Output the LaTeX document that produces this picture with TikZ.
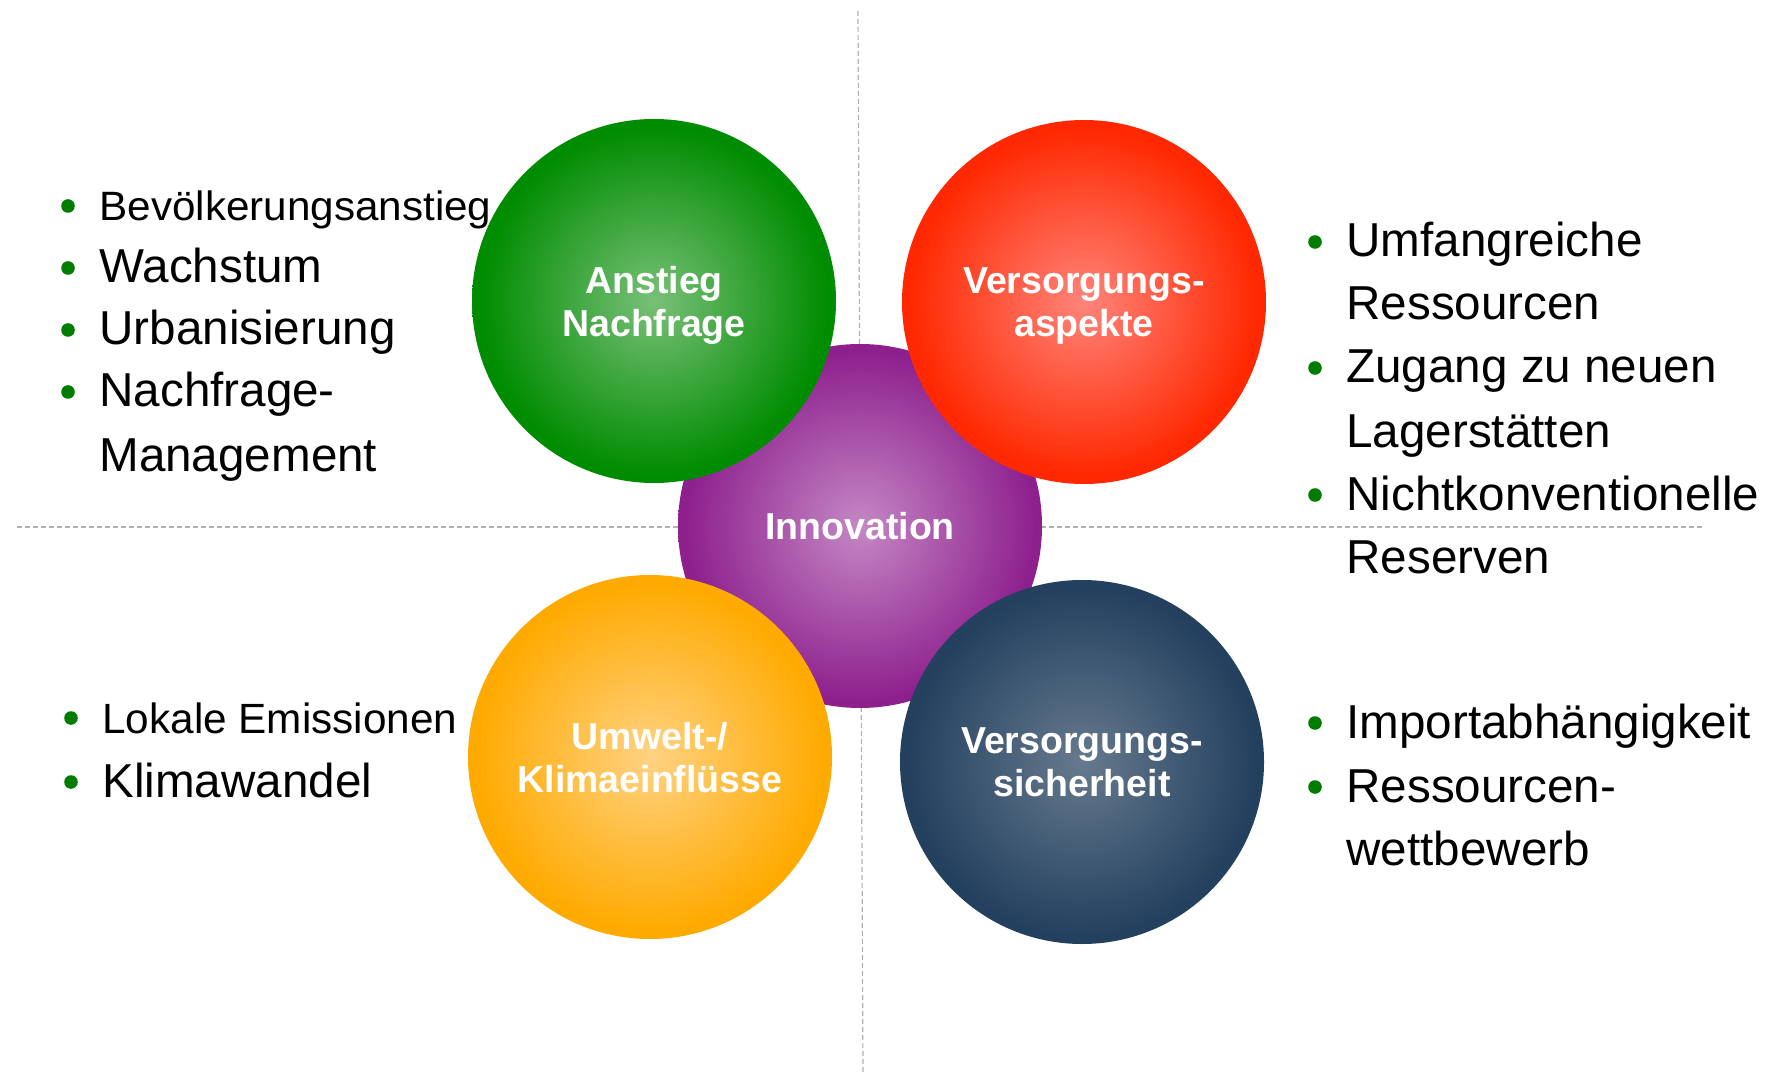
\documentclass[tikz,border=0pt]{standalone}
\usepackage{fontspec}
\setmainfont{Liberation Sans}
\usetikzlibrary{positioning}

\definecolor{dotgreen}{RGB}{0,125,0}
\definecolor{greenin}{RGB}{120,192,120}
\definecolor{greenout}{RGB}{0,140,0}
\definecolor{redin}{RGB}{255,132,122}
\definecolor{redout}{RGB}{255,40,0}
\definecolor{purplein}{RGB}{196,136,196}
\definecolor{purpleout}{RGB}{142,32,142}
\definecolor{orangein}{RGB}{255,210,130}
\definecolor{orangeout}{RGB}{255,170,0}
\definecolor{navyin}{RGB}{102,122,142}
\definecolor{navyout}{RGB}{35,64,94}

% light centre, full colour towards the rim
\pgfdeclareradialshading{greenball}{\pgfpoint{0bp}{0bp}}{color(0bp)=(greenin); color(24bp)=(greenout); color(50bp)=(greenout)}
\pgfdeclareradialshading{redball}{\pgfpoint{0bp}{0bp}}{color(0bp)=(redin); color(24bp)=(redout); color(50bp)=(redout)}
\pgfdeclareradialshading{purpleball}{\pgfpoint{0bp}{0bp}}{color(0bp)=(purplein); color(24bp)=(purpleout); color(50bp)=(purpleout)}
\pgfdeclareradialshading{orangeball}{\pgfpoint{0bp}{0bp}}{color(0bp)=(orangein); color(24bp)=(orangeout); color(50bp)=(orangeout)}
\pgfdeclareradialshading{navyball}{\pgfpoint{0bp}{0bp}}{color(0bp)=(navyin); color(24bp)=(navyout); color(50bp)=(navyout)}

\begin{document}
\begin{tikzpicture}[x=0.5pt, y=-0.5pt,
    ball/.style={circle, shade, minimum size=182pt, inner sep=0pt, align=center,
                 text depth=0pt, text=white,
                 font=\fontsize{18.75}{21.5}\selectfont\bfseries},
    guide/.style={draw=black!30, line width=0.6pt, dash pattern=on 2.5pt off 1.5pt},
    item/.style={anchor=base west, inner sep=0pt, font=\fontsize{23.8}{28}\selectfont},
    dot/.style={circle, fill=dotgreen, minimum size=6.8pt, inner sep=0pt}]

    \useasboundingbox (0,0) rectangle (1775,1074);

    % dashed quadrant lines, behind the circles
    \coordinate (vtop) at (858,11);
    \coordinate (vbot) at (863,1074);
    \coordinate (hleft) at (17,527);
    \coordinate (hright) at (1703,527);
    \draw[guide] (vtop) -- (vbot);
    \draw[guide] (hleft) -- (hright);

    % Innovation in the middle, the four drivers on top of it
    \node[ball, shading=purpleball] (innov) at (860,526) {Innovation};
    \node[ball, shading=greenball] (demand) at (654,301) {Anstieg\\Nachfrage};
    \node[ball, shading=redball] (supply) at (1084,302) {Versorgungs-\\aspekte};
    \node[ball, shading=orangeball] (climate) at (650,757) {Umwelt-/\\Klimaeinflüsse};
    \node[ball, shading=navyball] (security) at (1082,762) {Versorgungs-\\sicherheit};

    % demand side
    \node[item] (bev) at (99,221) {\fontsize{20.5}{24}\selectfont\scalebox{1.03}[1]{Bevölkerungsanstieg}};
    \node[item] (wachs) at (99,283) {Wachstum};
    \node[item] (urban) at (99,345) {Urbanisierung};
    \node[item] (nach) at (99,407) {Nachfrage-};
    \node[item] (nach2) at (99,472) {Management};

    % supply side
    \node[item] (umfang) at (1346,257) {Umfangreiche};
    \node[item] (umfang2) at (1346,320) {Ressourcen};
    \node[item] (zugang) at (1346,383) {Zugang zu neuen};
    \node[item] (zugang2) at (1346,447) {Lagerstätten};
    \node[item] (nicht) at (1346,510) {Nichtkonventionelle};
    \node[item] (nicht2) at (1346,573) {Reserven};

    % environment
    \node[item, font=\fontsize{21.15}{26}\selectfont] (lokal) at (102,733) {Lokale Emissionen};
    \node[item] (klima) at (102,797) {Klimawandel};

    % security of supply
    \node[item] (import) at (1346,738) {Importabhängigkeit};
    \node[item] (wettb) at (1346,802) {Ressourcen-};
    \node[item] (wettb2) at (1346,865) {wettbewerb};

    % bullets
    \foreach \n in {bev, wachs, urban, nach, umfang, zugang, nicht, lokal, klima, import, wettb}
        \node[dot] (\n-dot) at ([xshift=-15.5pt, yshift=7.5pt]\n.base west) {};
\end{tikzpicture}
\end{document}
